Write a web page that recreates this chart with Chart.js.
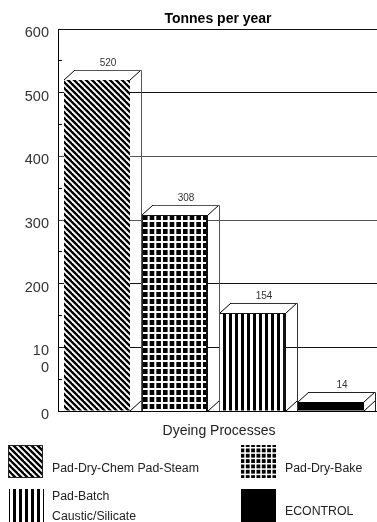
<!DOCTYPE html>
<html><head><meta charset="utf-8">
<style>html,body{margin:0;padding:0;background:#fff}canvas{display:block}</style>
<script src="https://cdn.jsdelivr.net/npm/chart.js@4"></script>
</head><body><canvas id="c" width="377" height="522"></canvas>
<script>
const categories = ['Pad-Dry-Chem Pad-Steam','Pad-Dry-Bake',['Pad-Batch','Caustic/Silicate'],'ECONTROL'];
const tonnes = [520,308,154,14];
const chartTitle = 'Tonnes per year';
const xTitle = 'Dyeing Processes';
const majorTicks = [0,100,200,300,400,500,600];
const minorTicks = [50,150,250,350,450,550];
const gridColors = {0:'#000',100:'#111',200:'#111',300:'#555',400:'#555',500:'#111',600:'#111'};
const sideColors = ['#555','#555','#333','#222'];
const FONT = '"Liberation Sans", Arial, sans-serif';

function tile(w,h,draw){const c=document.createElement('canvas');c.width=w;c.height=h;const g=c.getContext('2d');g.fillStyle='#fff';g.fillRect(0,0,w,h);draw(g);return g.createPattern(c,'repeat');}
const patDiag = tile(6,6,g=>{g.strokeStyle='#000';g.lineWidth=2.3;for(let i=-6;i<=6;i+=6){g.beginPath();g.moveTo(i-1,-1);g.lineTo(i+7,7);g.stroke();}});
const patGrid = tile(20,7,g=>{g.fillStyle='#000';for(let k=0;k<3;k++){const x=3+k*20/3;for(const dx of [0,-20])g.fillRect(x+dx,5,4.6,5);for(const dx of [0,-20])g.fillRect(x+dx,-2,4.6,5);}});
const patGridSmall = tile(16,16,g=>{g.fillStyle='#000';for(let k=0;k<3;k++)for(let m=0;m<3;m++)g.fillRect(k*16/3+.5,m*16/3+.5,3.8,3.8);});
const patVert = tile(6,6,g=>{g.fillStyle='#000';g.fillRect(1,0,3,6);});
const fills = [patDiag,patGrid,patVert,'#000'];
const swatches = [patDiag,patGridSmall,patVert,'#000'];
const DX=11, DY=10;
const alignPx = p => Math.round(p-.5)+.5;

const hatchBox = {
  id:'hatchBox',
  beforeDraw(chart){
    chart.scales.y.getLabelItems().forEach(it=>{
      if(it._moved) return; it._moved=true;
      it.options.translation[1]+=4; it.textOffset=0;
    });
  },
  beforeDatasetsDraw(chart){
    const {ctx,chartArea:a,scales:{y}}=chart;
    ctx.save();ctx.lineWidth=1;
    majorTicks.forEach(v=>{
      const p=alignPx(y.getPixelForValue(v));
      ctx.strokeStyle=gridColors[v];
      ctx.beginPath();ctx.moveTo(a.right,p);ctx.lineTo(377,p);ctx.stroke();
    });
    ctx.strokeStyle='#000';
    minorTicks.forEach(v=>{
      const p=alignPx(y.getPixelForValue(v));
      ctx.beginPath();ctx.moveTo(a.left,p);ctx.lineTo(a.left+4,p);ctx.stroke();
    });
    ctx.restore();
  },
  afterDatasetsDraw(chart){
    const {ctx}=chart, meta=chart.getDatasetMeta(0);
    ctx.save();ctx.lineWidth=1;
    meta.data.forEach((b,i)=>{
      const l=Math.round(b.x-b.width/2), r=Math.round(b.x+b.width/2), t=Math.round(b.y), bt=Math.round(b.base);
      ctx.strokeStyle='#000';
      ctx.beginPath();ctx.moveTo(l,t);ctx.lineTo(l+DX,t-DY);ctx.moveTo(r,t);ctx.lineTo(r+DX,t-DY);ctx.moveTo(r,bt);ctx.lineTo(r+DX,bt-DY);ctx.stroke();
      ctx.strokeStyle=sideColors[i];
      ctx.beginPath();ctx.moveTo(l+DX,t-DY+.5);ctx.lineTo(r+DX+.5,t-DY+.5);ctx.lineTo(r+DX+.5,bt);ctx.stroke();
      if(i===1||i===2){
        ctx.fillStyle='#111';ctx.fillRect(r-(i===2?3:2),t,i===2?3:2,bt-t);
        ctx.fillRect(l,t,r-l,1);
      }
      if(i===1){ctx.fillStyle='#222';ctx.fillRect(l,t,1,bt-t);}
      ctx.fillStyle='#333';ctx.font='10px '+FONT;ctx.textAlign='center';ctx.textBaseline='middle';
      ctx.fillText(String(tonnes[i]),b.x+DX,t-DY-7);
    });
    ctx.restore();
  },
  afterDraw(chart){
    const {ctx}=chart;
    ctx.save();
    ctx.fillStyle='#000';ctx.textBaseline='middle';
    ctx.font='bold 14px '+FONT;ctx.textAlign='center';ctx.fillText(chartTitle,218,19);
    ctx.fillStyle='#222';
    ctx.font='14px '+FONT;ctx.fillText(xTitle,219,431);
    ctx.textAlign='left';ctx.font='12.3px '+FONT;
    const slots=[[8,445,52,[469]],[241,445,285,[469]],[9,489,52,[497,517]],[241,489,285,[512]]];
    slots.forEach((s,i)=>{
      ctx.fillStyle=swatches[i];ctx.fillRect(s[0],s[1],35,33);
      ctx.strokeStyle='#222';ctx.lineWidth=1;
      if(i===0) ctx.strokeRect(s[0]+.5,s[1]+.5,34,32);
      ctx.fillStyle='#222';
      [].concat(categories[i]).forEach((t,k)=>ctx.fillText(t,s[2],s[3][k]));
    });
    ctx.restore();
  }
};

new Chart(document.getElementById('c'),{
  type:'bar',
  data:{labels:categories,datasets:[{data:tonnes,backgroundColor:fills,borderWidth:0,categoryPercentage:1,barPercentage:66/78}]},
  options:{
    responsive:false,animation:false,
    layout:{padding:{top:29,right:7,bottom:111,left:0}},
    plugins:{legend:{display:false},tooltip:{enabled:false},title:{display:false}},
    scales:{
      x:{display:true,grid:{display:false},border:{display:false},ticks:{display:false},afterFit(s){s.height=0;}},
      y:{min:0,max:600,
        afterFit(s){s.width=58;},
        border:{display:true,color:'#000',width:1},
        grid:{color:c=>gridColors[c.tick.value],lineWidth:1,drawTicks:false},
        ticks:{stepSize:100,padding:9,color:'#333',
          font:{family:FONT,size:14.5,lineHeight:1.14},
          callback:v=>v===100?['10','0']:String(v)}
      }
    }
  },
  plugins:[hatchBox]
});
</script></body></html>
